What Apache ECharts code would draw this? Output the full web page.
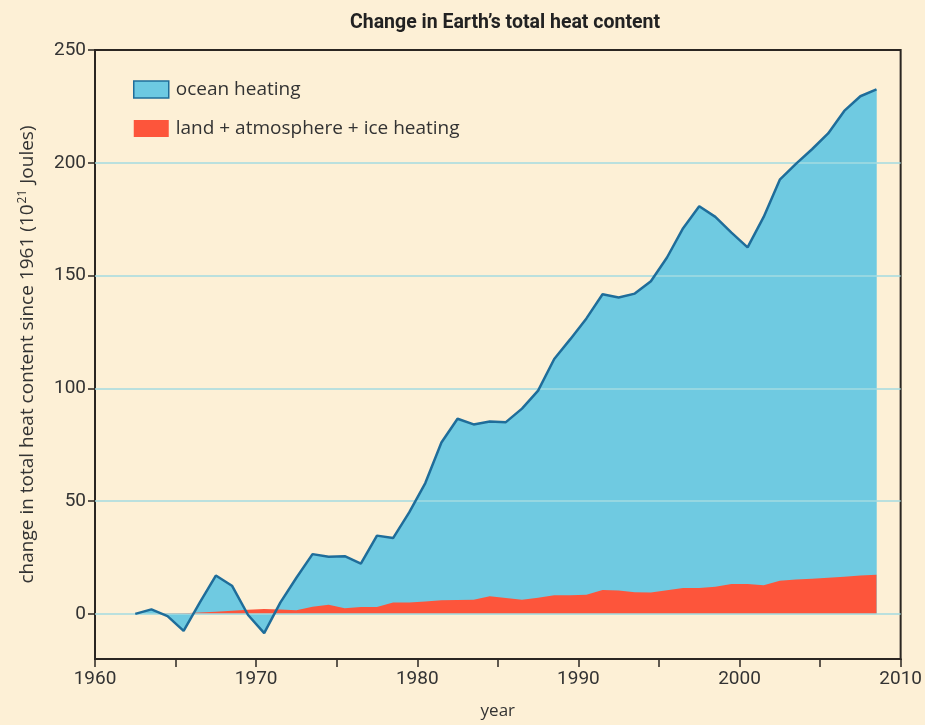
<!DOCTYPE html>
<html><head><meta charset="utf-8">
<script src="https://cdn.jsdelivr.net/npm/echarts@6/dist/echarts.min.js"></script>
<style>html,body{margin:0;padding:0;background:#fdf0d6;}#c{width:925px;height:725px;}</style>
</head><body><div id="c"></div>
<script>
const years = [1962.5,1963.5,1964.5,1965.5,1966.5,1967.5,1968.5,1969.5,1970.5,1971.5,1972.5,1973.5,1974.5,1975.5,1976.5,1977.5,1978.5,1979.5,1980.5,1981.5,1982.5,1983.5,1984.5,1985.5,1986.5,1987.5,1988.5,1989.5,1990.5,1991.5,1992.5,1993.5,1994.5,1995.5,1996.5,1997.5,1998.5,1999.5,2000.5,2001.5,2002.5,2003.5,2004.5,2005.5,2006.5,2007.5,2008.5];
const oceanHeating = [0,2,-1,-7.5,5,17,12.5,-0.5,-8.5,5,16,26.5,25.3,25.6,22.3,34.7,33.6,45,58,76,86.5,84,85.3,85,91,99,113,121.8,131,141.7,140.3,142,147.5,158,171,180.7,176,169,162.5,176,192.5,199.5,206,213,223,229.5,232.5];
const landHeating = [0,0,0.2,0.3,0.6,1,1.4,1.8,2.2,2,1.6,3.2,4,2.5,3,3,5,5,5.5,6,6.2,6.3,7.8,7,6.3,7.2,8.3,8.3,8.5,10.6,10.4,9.6,9.5,10.5,11.5,11.5,12,13.2,13.3,12.7,14.7,15.2,15.6,16,16.5,17,17.4];
const yTicks = [0,50,100,150,200,250];
const gridValues = [0,50,100,150,200];
const seriesNames = ['ocean heating','land + atmosphere + ice heating'];

const pair = (xs, ys) => xs.map((x,i)=>[x, ys[i]]);
// split the outline into lobes between zero crossings, so each fill polygon is simple
function lobes(xs, ys){
  const res = [];
  let cur = [[xs[0], ys[0]]];
  for (let i=1;i<xs.length;i++){
    const a=ys[i-1], b=ys[i];
    if ((a>0&&b<0)||(a<0&&b>0)){
      const xc = xs[i-1] + (xs[i]-xs[i-1])*a/(a-b);
      cur.push([xc,0]);
      res.push(cur);
      cur = [[xc,0]];
    }
    cur.push([xs[i], b]);
  }
  res.push(cur);
  return res.filter(l=>l.length>2);
}
const chart = echarts.init(document.getElementById('c'));
const tickFont = 'Roboto,sans-serif';

chart.setOption({
  backgroundColor:'#fdf0d6',
  animation:false,
  title:{text:"Change in Earth’s total heat content",left:500,top:8,textAlign:'center',
    textStyle:{fontFamily:'Roboto,sans-serif',fontWeight:'bold',fontSize:19.5,color:'#222'}},
  legend:{orient:'vertical',left:128,top:75,itemWidth:35,itemHeight:17,itemGap:20,
    textStyle:{fontFamily:'"Open Sans",sans-serif',fontSize:19,color:'#333',padding:[0,0,0,2]},
    data:[{name:seriesNames[0],icon:'rect',itemStyle:{color:'#6dc9e2',borderColor:'#1f6d9a',borderWidth:1.5}},
          {name:seriesNames[1],icon:'rect',itemStyle:{color:'#fd553b'}}]},
  grid:{left:95,right:22,top:50,bottom:64,show:true,borderColor:'#2b2622',borderWidth:2},
  xAxis:{type:'value',min:1960,max:2010,interval:5,
    name:'year',nameLocation:'middle',nameGap:44,
    nameTextStyle:{fontFamily:'"Open Sans",sans-serif',fontSize:17,color:'#333'},
    axisLine:{onZero:false,lineStyle:{color:'#2b2622',width:2}},
    axisTick:{length:8,lineStyle:{color:'#2b2622',width:1.5}},
    axisLabel:{fontFamily:tickFont,fontSize:19,color:'#333',margin:11,
      formatter:v=> (Math.round(v)%10===0 ? String(v) : '')},
    splitLine:{show:false}},
  yAxis:{type:'value',min:-20,max:250,interval:10,
    name:'change in total heat content since 1961 (10{sup|21} Joules)',
    nameLocation:'middle',nameGap:56,nameRotate:90,
    nameTextStyle:{fontFamily:'"Open Sans",sans-serif',fontSize:19,color:'#333',
      rich:{sup:{fontFamily:'"Open Sans",sans-serif',fontSize:12,color:'#333',verticalAlign:'top',padding:[0,1,10,1]}}},
    axisLine:{show:true,onZero:false,lineStyle:{color:'#2b2622',width:2}},
    axisTick:{show:true,customValues:yTicks,length:7,lineStyle:{color:'#2b2622',width:1.5}},
    axisLabel:{customValues:yTicks,fontFamily:tickFont,fontSize:19,color:'#333',margin:9},
    splitLine:{show:false}},
  series:[
    {type:'line',name:'grid',data:[],z:1,silent:true,
     markLine:{silent:true,symbol:'none',label:{show:false},animation:false,
       lineStyle:{color:'#a3dbe0',type:'solid',width:1.5},
       data:gridValues.map(v=>({yAxis:v}))}},
    {type:'custom',name:'oceanFill',data:[[years[0],0]],z:2,silent:true,clip:true,
     renderItem:function(params, api){
       const children = lobes(years, oceanHeating).map(l=>{
         const pts = l.map(p=>api.coord(p));
         const last = l[l.length-1], first = l[0];
         if (last[1] !== 0) pts.push(api.coord([last[0],0]));
         if (first[1] !== 0) pts.push(api.coord([first[0],0]));
         return {type:'polygon',shape:{points:pts},style:{fill:'#6fcae1',stroke:'#6fcae1',lineWidth:0.5},silent:true};
       });
       return {type:'group',children:children};
     }},
    {type:'line',name:seriesNames[1],data:pair(years,landHeating),z:3,symbol:'none',
     lineStyle:{width:0,color:'#fd553b'},itemStyle:{color:'#fd553b'},
     areaStyle:{color:'#fd553b',opacity:1}},
    {type:'line',name:seriesNames[0],data:pair(years,oceanHeating),z:6,symbol:'none',
     lineStyle:{color:'#1f6d9a',width:2.5},itemStyle:{color:'#6dc9e2'}}
  ]
});
</script></body></html>
